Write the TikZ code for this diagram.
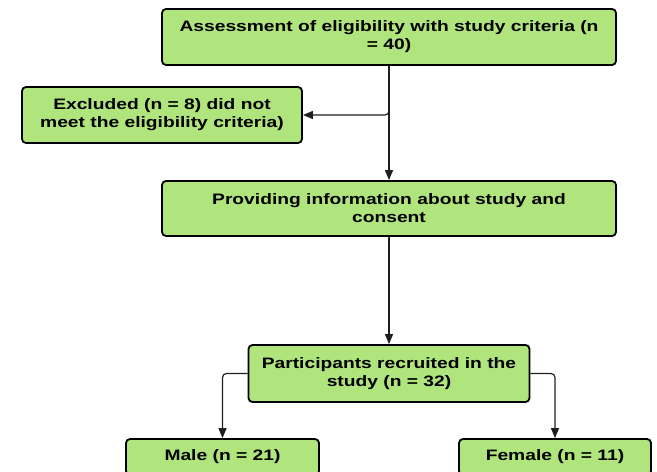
\documentclass[tikz,border=0pt]{standalone}
\usepackage{fontspec}
\setmainfont{Liberation Sans}
\newfontfamily\boxfont[FakeStretch=1.27]{Liberation Sans}
\usetikzlibrary{arrows.meta}
\definecolor{boxgreen}{RGB}{176,228,124}
\definecolor{linegray}{RGB}{30,30,30}
\begin{document}
\begin{tikzpicture}[x=1bp,y=-1bp,
  box/.style={draw=black, line width=1.8bp, rounded corners=4bp, fill=boxgreen,
    inner sep=0pt, align=center, font=\boxfont\fontsize{15.2}{18}\selectfont\bfseries},
  conn/.style={draw=linegray, line width=1.2bp, rounded corners=4bp,
    -{Triangle[length=10bp,width=8bp]}}]
\useasboundingbox (0,0) rectangle (657,472);
\node[box, minimum width=454bp, minimum height=56bp] (b1) at (389,37) {Assessment of eligibility with study criteria (n\\= 40)};
\node[box, minimum width=280bp, minimum height=56bp] (ex) at (162,115) {Excluded (n = 8) did not\\meet the eligibility criteria)};
\node[box, minimum width=454bp, minimum height=55bp] (b3) at (389,208.5) {Providing information about study and\\consent};
\node[box, minimum width=281bp, minimum height=57bp] (b4) at (389,373.5) {Participants recruited in the\\study (n = 32)};
\node[box, minimum width=193bp, minimum height=36bp] (m) at (222.5,457) {Male (n = 21)};
\node[box, minimum width=192bp, minimum height=36bp] (f) at (555,457) {Female (n = 11)};
\draw[conn] (b1.south) -- (b3.north);
\draw[conn] (b1.south) |- (ex.east);
\draw[conn] (b3.south) -- (b4.north);
\draw[conn] (b4.west) -| (m.north);
\draw[conn] (b4.east) -| (f.north);
\end{tikzpicture}
\end{document}
